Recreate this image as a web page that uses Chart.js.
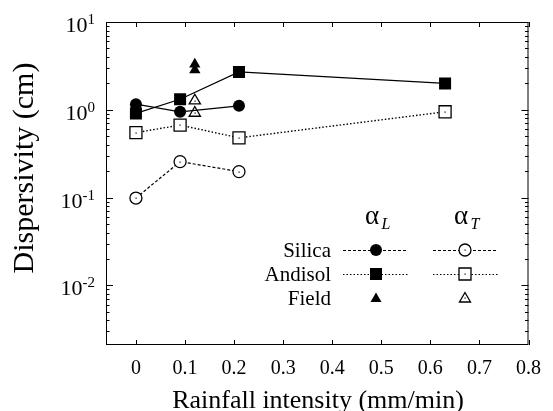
<!DOCTYPE html>
<html>
<head>
<meta charset="utf-8">
<script src="https://cdn.jsdelivr.net/npm/chart.js@4.4.1/dist/chart.umd.min.js"></script>
<style>
  html, body { margin: 0; padding: 0; background: #fff; }
</style>
</head>
<body>
<canvas id="myChart" width="553" height="411"></canvas>
<script>
// rainfall intensity (mm/min)
const silicaX = [0, 0.09, 0.21];
const andisolX = [0, 0.09, 0.21, 0.63];
const fieldX = [0.12, 0.12];

// dispersivity (cm)
const silicaL = [1.16, 0.95, 1.11];
const silicaT = [0.099, 0.257, 0.198];
const andisolL = [0.91, 1.32, 2.7, 2.0];
const andisolT = [0.55, 0.67, 0.48, 0.95];
const fieldL = [3.3, 2.85];
const fieldT = [1.27, 0.92];

const xTicks = [0, 0.1, 0.2, 0.3, 0.4, 0.5, 0.6, 0.7, 0.8];
const decades = [0.01, 0.1, 1, 10];
const decadeLabels = ['-2', '-1', '0', '1'];

const FONT = "'Liberation Serif', serif";

function pts(xs, ys) {
  return xs.map((x, i) => ({ x: x, y: ys[i] }));
}

// minor + major ticks for the log axis
let yTicks = [];
for (let d = 0.001; d < 10; d *= 10) {
  for (let k = 1; k < 10; k++) yTicks.push(+(d * k).toPrecision(3));
}
yTicks.push(10);

const decor = {
  id: 'decor',
  afterDatasetsDraw(chart) {
    const ctx = chart.ctx;
    const area = chart.chartArea;
    const xs = chart.scales.x;
    const ys = chart.scales.y;
    ctx.save();
    ctx.strokeStyle = '#000';
    ctx.fillStyle = '#000';
    ctx.lineWidth = 1;

    // centre dots on open markers
    chart.data.datasets.forEach((ds, i) => {
      if (!ds.openDot) return;
      chart.getDatasetMeta(i).data.forEach((p) => {
        ctx.fillRect(Math.round(p.x) - 0.5, Math.round(p.y) - 0.5, 1.2, 1.2);
      });
    });

    // frame
    ctx.strokeRect(area.left + 0.5, area.top + 0.5, area.right - area.left - 1, area.bottom - area.top - 1);

    // inward ticks
    ctx.beginPath();
    xTicks.forEach((v) => {
      const px = Math.round(xs.getPixelForValue(v)) + 0.5;
      ctx.moveTo(px, area.bottom);
      ctx.lineTo(px, area.bottom - 5);
      ctx.moveTo(px, area.top);
      ctx.lineTo(px, area.top + 5);
    });
    yTicks.forEach((v) => {
      if (v < ys.min || v > ys.max) return;
      const py = Math.round(ys.getPixelForValue(v)) + 0.5;
      const major = decades.includes(v);
      const len = major ? 7 : 3.5;
      ctx.moveTo(area.left, py);
      ctx.lineTo(area.left + len, py);
      ctx.moveTo(area.right, py);
      ctx.lineTo(area.right - len, py);
    });
    ctx.stroke();

    // y tick labels 10^n
    decades.forEach((v, i) => {
      const py = ys.getPixelForValue(v);
      ctx.font = '15px ' + FONT;
      const sup = decadeLabels[i];
      const supW = ctx.measureText(sup).width;
      ctx.textAlign = 'right';
      ctx.textBaseline = 'alphabetic';
      ctx.fillText(sup, 95, py + 2);
      ctx.font = '22px ' + FONT;
      ctx.fillText('10', 95 - supW, py + 10);
    });

    // axis titles
    ctx.font = '26px ' + FONT;
    ctx.textAlign = 'center';
    ctx.textBaseline = 'alphabetic';
    ctx.fillText('Rainfall intensity (mm/min)', 318, 408);
    ctx.save();
    ctx.font = '30px ' + FONT;
    ctx.translate(33, 168);
    ctx.rotate(-Math.PI / 2);
    ctx.fillText('Dispersivity (cm)', 0, 0);
    ctx.restore();

    // legend
    const colL = 376, colT = 465;
    const rows = [
      { label: 'Silica', y: 250, dash: [3, 2], l: 'circle', t: 'circle' },
      { label: 'Andisol', y: 274, dash: [1.5, 2], l: 'rect', t: 'rect' },
      { label: 'Field', y: 298, dash: null, l: 'triangle', t: 'triangle' }
    ];
    ctx.font = '27px ' + FONT;
    ctx.textAlign = 'center';
    ctx.fillText('\u03b1', colL - 4, 224);
    ctx.fillText('\u03b1', colT - 4, 224);
    ctx.font = 'italic 16px ' + FONT;
    ctx.fillText('L', colL + 10, 229);
    ctx.fillText('T', colT + 10, 229);

    rows.forEach((r) => {
      ctx.font = '21px ' + FONT;
      ctx.textAlign = 'right';
      ctx.fillText(r.label, 331, r.y + 7);
      if (r.dash) {
        ctx.setLineDash(r.dash);
        ctx.beginPath();
        ctx.moveTo(343, r.y + 0.5);
        ctx.lineTo(408, r.y + 0.5);
        ctx.moveTo(433, r.y + 0.5);
        ctx.lineTo(498, r.y + 0.5);
        ctx.stroke();
        ctx.setLineDash([]);
      }
      drawMark(ctx, r.l, colL, r.y, true, r.l === 'triangle' ? 5 : 6);
      drawMark(ctx, r.t, colT, r.y, false, r.t === 'triangle' ? 5 : 6);
    });
    ctx.restore();
  }
};

function drawMark(ctx, kind, x, y, filled, s) {
  ctx.beginPath();
  if (kind === 'circle') {
    ctx.arc(x, y, s, 0, Math.PI * 2);
  } else if (kind === 'rect') {
    ctx.rect(x - s, y - s, 2 * s, 2 * s);
  } else {
    ctx.moveTo(x, y - s * 1.1);
    ctx.lineTo(x + s * 1.1, y + s * 0.8);
    ctx.lineTo(x - s * 1.1, y + s * 0.8);
    ctx.closePath();
  }
  if (filled) {
    ctx.fill();
  } else {
    ctx.fillStyle = '#fff';
    ctx.fill();
    ctx.fillStyle = '#000';
    ctx.lineWidth = 1.3;
    ctx.stroke();
    ctx.lineWidth = 1;
    ctx.fillRect(x - 0.5, y - 0.5, 1.2, 1.2);
  }
}

const ctx = document.getElementById('myChart').getContext('2d');

const data = {
  datasets: [
    {
      label: 'Silica aL',
      data: pts(silicaX, silicaL),
      showLine: true,
      borderColor: '#000',
      borderWidth: 1.2,
      pointStyle: 'circle',
      pointRadius: 6,
      pointBackgroundColor: '#000',
      pointBorderWidth: 0,
    },
    {
      label: 'Silica aT',
      data: pts(silicaX, silicaT),
      showLine: true,
      borderColor: '#000',
      borderWidth: 1.2,
      borderDash: [3, 2],
      pointStyle: 'circle',
      pointRadius: 6,
      pointBackgroundColor: '#fff',
      pointBorderColor: '#000',
      pointBorderWidth: 1.3,
      openDot: true,
    },
    {
      label: 'Andisol aL',
      data: pts(andisolX, andisolL),
      showLine: true,
      borderColor: '#000',
      borderWidth: 1.2,
      pointStyle: 'rect',
      pointRadius: 8.5,
      pointBackgroundColor: '#000',
      pointBorderWidth: 0,
    },
    {
      label: 'Andisol aT',
      data: pts(andisolX, andisolT),
      showLine: true,
      borderColor: '#000',
      borderWidth: 1.4,
      borderDash: [1.5, 2],
      pointStyle: 'rect',
      pointRadius: 8.5,
      pointBackgroundColor: '#fff',
      pointBorderColor: '#000',
      pointBorderWidth: 1.3,
      openDot: true,
    },
    {
      label: 'Field aL',
      data: pts(fieldX, fieldL),
      showLine: false,
      pointStyle: 'triangle',
      pointRadius: 6.5,
      pointBackgroundColor: '#000',
      pointBorderColor: '#000',
      pointBorderWidth: 0,
    },
    {
      label: 'Field aT',
      data: pts(fieldX, fieldT),
      showLine: false,
      pointStyle: 'triangle',
      pointRadius: 6.5,
      pointBackgroundColor: '#fff',
      pointBorderColor: '#000',
      pointBorderWidth: 1.3,
      openDot: true,
    },
  ],
};

const myChart = new Chart(ctx, {
  type: 'scatter',
  data: data,
  options: {
    responsive: false,
    animation: false,
    devicePixelRatio: 1,
    layout: { padding: { top: 22, right: 16, left: 0, bottom: 0 } },
    plugins: {
      legend: { display: false },
      tooltip: { enabled: false },
    },
    scales: {
      x: {
        type: 'linear',
        min: -0.061,
        max: 0.8,
        grid: { display: false, drawTicks: false },
        border: { display: false },
        afterBuildTicks: (scale) => {
          scale.ticks = xTicks.map((v) => ({ value: v }));
        },
        afterFit: (scale) => { scale.height = 66; },
        ticks: {
          color: '#000',
          padding: 12,
          maxRotation: 0,
          autoSkip: false,
          font: { family: FONT, size: 20 },
          callback: (v) => String(+v.toFixed(1)),
        },
      },
      y: {
        type: 'logarithmic',
        min: 0.0021,
        max: 10,
        grid: { display: false, drawTicks: false },
        border: { display: false },
        afterBuildTicks: (scale) => {
          scale.ticks = yTicks.map((v) => ({ value: v }));
        },
        afterFit: (scale) => { scale.width = 106; },
        ticks: { display: false },
      },
    },
  },
  plugins: [decor],
});
</script>
</body>
</html>
